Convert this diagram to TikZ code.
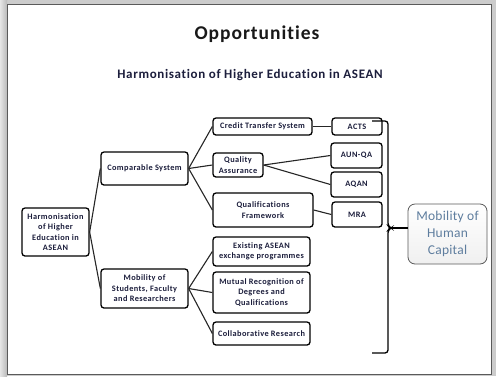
\documentclass[tikz,border=0pt]{standalone}
\usepackage{fontspec}
\setmainfont[Ligatures=NoCommon]{Carlito}
\definecolor{ink}{HTML}{1C1E3C}
\definecolor{steel}{HTML}{5E7D9E}
\definecolor{frame}{HTML}{5A5A5A}
\begin{document}
\begin{tikzpicture}[x=1pt,y=-1pt]
  \tikzset{
    caja/.style={draw=black,rounded corners=3pt,line width=1.3pt,fill=white,align=center,inner sep=1pt,
      text=ink,font=\fontsize{8.3}{10.5}\selectfont\bfseries\addfontfeature{LetterSpace=5}},
    meta/.style={draw=frame,rounded corners=7pt,line width=0.8pt,top color=white,bottom color=gray!12,
      align=center,inner sep=1pt,text=steel,font=\fontsize{13.5}{17}\selectfont\addfontfeature{LetterSpace=2}},
    lazo/.style={draw=black!85,line width=1.1pt}
  }
  \useasboundingbox (0,0) rectangle (496,376);
  \fill[gray!40] (0,0) rectangle (496,376);
  \shade[left color=gray!20,right color=gray!55] (0,0) rectangle (7,376);
  \fill[white,draw=frame,line width=1pt] (7,4) rectangle (491,374);
  \node[text=black!90,font=\fontsize{19.5}{22}\selectfont\bfseries\addfontfeature{LetterSpace=5}] (tit) at (257,34) {Opportunities};
  \node[text=ink,font=\fontsize{13}{15}\selectfont\bfseries\addfontfeature{LetterSpace=5}] (sub) at (250,75) {Harmonisation of Higher Education in ASEAN};
  \node[caja,minimum width=67,minimum height=48] (root) at (55.5,232) {Harmonisation\\of Higher\\Education in\\ASEAN};
  \node[caja,minimum width=87,minimum height=33] (comp) at (144.5,168.5) {Comparable System};
  \node[caja,minimum width=87,minimum height=39] (mob) at (144.5,288.5) {Mobility of\\Students, Faculty\\and Researchers};
  \node[caja,minimum width=99,minimum height=17] (cts) at (262.5,126.5) {Credit Transfer System};
  \node[caja,minimum width=50,minimum height=17] (acts) at (357,126.5) {ACTS};
  \node[caja,minimum width=50,minimum height=24] (qa) at (238,165) {Quality\\Assurance};
  \node[caja,minimum width=51,minimum height=25] (aunqa) at (356.5,155.5) {AUN-QA};
  \node[caja,minimum width=51,minimum height=25] (aqan) at (356.5,184.5) {AQAN};
  \node[caja,minimum width=100,minimum height=34] (qf) at (263,210) {Qualifications\\Framework};
  \node[caja,minimum width=50,minimum height=25] (mra) at (357,214.5) {MRA};
  \node[caja,minimum width=97,minimum height=29] (exist) at (261.5,251.5) {Existing ASEAN\\exchange programmes};
  \node[caja,minimum width=97,minimum height=41] (mutual) at (261.5,292.5) {Mutual Recognition of\\Degrees and\\Qualifications};
  \node[caja,minimum width=97,minimum height=23] (collab) at (261.5,333.5) {Collaborative Research};
  \node[meta,minimum width=79,minimum height=60] (hc) at (447.5,234) {Mobility of\\Human\\Capital};
  \coordinate (tip) at (391,228);
  \draw[lazo] (root.east) -- (comp.west);
  \draw[lazo] (root.east) -- (mob.west);
  \draw[lazo] (comp.east) -- (cts.west);
  \draw[lazo] (comp.east) -- (qa.west);
  \draw[lazo] (comp.east) -- (qf.west);
  \draw[lazo] (cts.east) -- (acts.west);
  \draw[lazo] (qa.east) -- (aunqa.west);
  \draw[lazo] (qa.east) -- (aqan.west);
  \draw[lazo] (qf.east) -- (mra.west);
  \draw[lazo] (mob.east) -- (exist.west);
  \draw[lazo] (mob.east) -- (mutual.west);
  \draw[lazo] (mob.east) -- (collab.west);
  \draw[line width=1.3pt,rounded corners=3pt] (372,121) -- (388,121) -- (388,226) -- (tip) -- (388,230) -- (388,353) -- (372,353);
  \draw[line width=1.3pt] (tip) -- (tip -| hc.west);
\end{tikzpicture}
\end{document}
